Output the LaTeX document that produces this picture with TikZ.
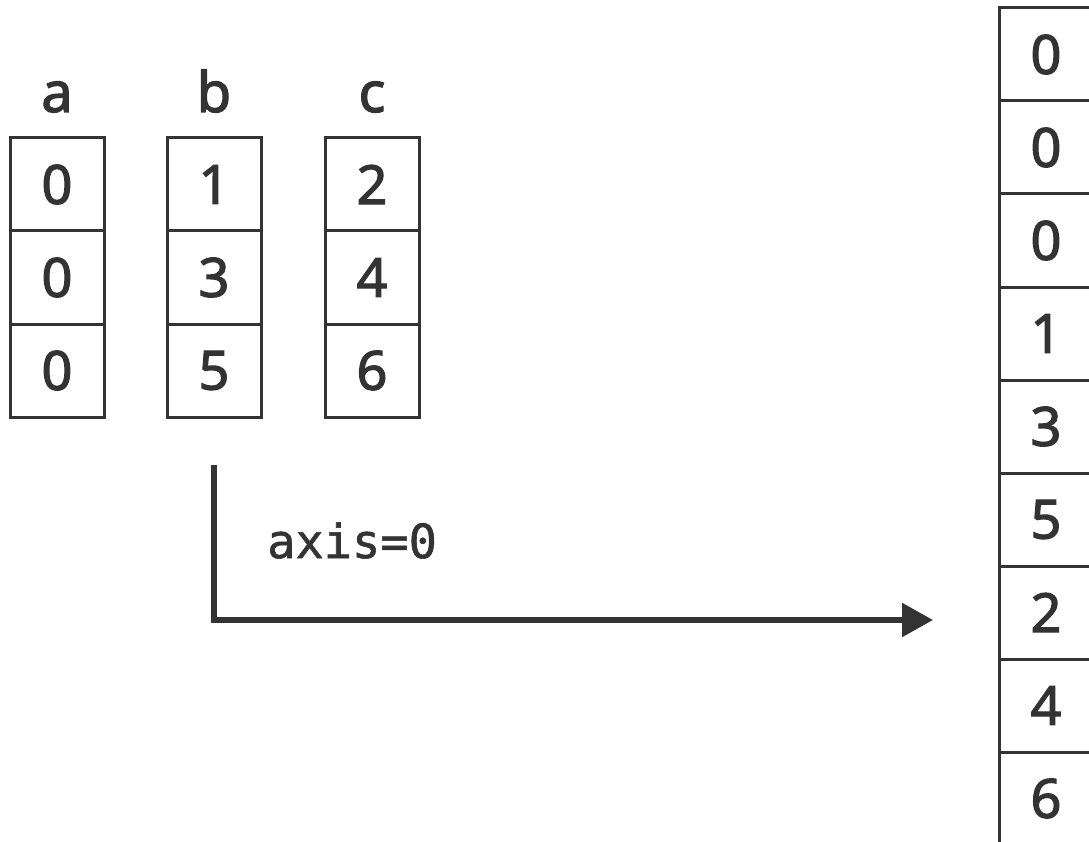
\documentclass[tikz,border=0pt]{standalone}
\usepackage{fontspec}
\setmainfont{Noto Sans}
\newfontfamily\cellfont{Noto Sans}[FakeBold=2.2]
\newfontfamily\monofont{DejaVu Sans Mono}[FakeBold=1.2]
\usetikzlibrary{arrows.meta}
\definecolor{ink}{HTML}{333333}
\tikzset{
  cell/.style={draw=ink, line width=3pt, minimum width=94pt, minimum height=93pt,
    inner sep=0pt, text=ink, font=\cellfont\fontsize{54}{60}\selectfont},
  colname/.style={text=ink, font=\cellfont\fontsize{56}{60}\selectfont, inner sep=0pt},
  flow/.style={draw=ink, line width=5.5pt, -{Triangle[length=31pt,width=33pt]}},
  axlabel/.style={text=ink, font=\monofont\fontsize{47}{55}\selectfont, inner sep=0pt}
}
\begin{document}
\begin{tikzpicture}[x=1pt,y=-1pt]
\useasboundingbox (0,0) rectangle (1089,842);
\fill[white] (0,0) rectangle (1089,842);
\clip (0,0) rectangle (1089,842);
% left columns
\foreach \col/\cx/\va/\vb/\vc in {a/57/0/0/0, b/214/1/3/5, c/372/2/4/6}{
  \node[colname, anchor=base] (\col-name) at (\cx,112) {\col};
  \node[cell] (\col1) at (\cx,184.5) {\va};
  \node[cell] (\col2) at (\cx,277.5) {\vb};
  \node[cell] (\col3) at (\cx,370.5) {\vc};
}
% right column
\foreach \v [count=\i] in {0,0,0,1,3,5,2,4,6}{
  \node[cell] (r\i) at (1046,{8+93*(\i-0.5)}) {\v};
}
% arrow
\coordinate (start) at (214,465);
\coordinate (corner) at (214,620);
\coordinate (tip) at (933,620);
\draw[flow] (start) -- (corner) -- (tip);
\node[axlabel, anchor=base west] (axis) at (267,558) {axis=0};
\end{tikzpicture}
\end{document}
